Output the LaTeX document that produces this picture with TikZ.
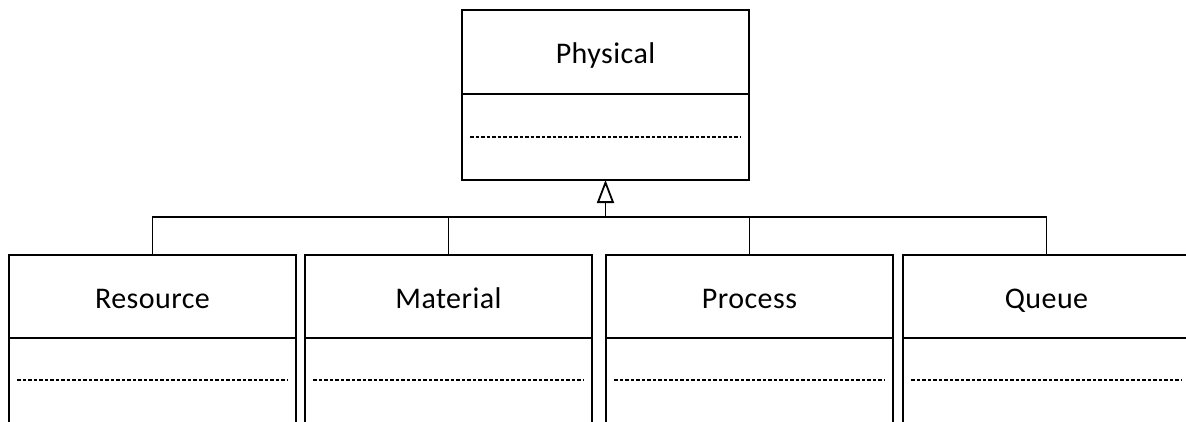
\documentclass[tikz,border=0pt]{standalone}
\usepackage{fontspec}
\setmainfont{Carlito}[LetterSpace=1.5]
\usetikzlibrary{arrows.meta}
\begin{document}
\begin{tikzpicture}[x=1pt,y=-1pt,
  classbox/.style={draw, line width=1.8pt, minimum width=287pt, minimum height=170pt,
    inner sep=0pt, outer sep=0pt},
  classname/.style={anchor=base, inner sep=0pt, font=\fontsize{30}{36}\selectfont},
  divider/.style={line width=1.8pt},
  opsep/.style={line width=1.2pt, dash pattern=on 3.5pt off 2pt},
  link/.style={line width=1.8pt},
  inherit/.style={link, -{Triangle[open, length=23pt, width=17pt, line width=1.8pt]}}]
\useasboundingbox (0,0) rectangle (1186,421);
\clip (0,0) rectangle (1186,421);

% superclass
\node[classbox] (phys) at (605.5,95) {};
\node[classname] (phys-t) at ([yshift=-53pt]phys.north) {Physical};
\draw[divider] ([yshift=-84pt]phys.north west) -- ([yshift=-84pt]phys.north east);
\draw[opsep] ([xshift=8pt,yshift=-127pt]phys.north west) -- ([xshift=-8pt,yshift=-127pt]phys.north east);

% subclasses
\foreach \n/\x/\t in {res/152.5/Resource, mat/448.5/Material, pro/749.5/Process, que/1046.5/Queue}{
  \node[classbox] (\n) at (\x,340) {};
  \node[classname] (\n-t) at ([yshift=-53pt]\n.north) {\t};
  \draw[divider] ([yshift=-83pt]\n.north west) -- ([yshift=-83pt]\n.north east);
  \draw[opsep] ([xshift=8pt,yshift=-125pt]\n.north west) -- ([xshift=-8pt,yshift=-125pt]\n.north east);
}

% generalization tree
\coordinate (bus) at (605.5,217);
\draw[link] (res.north) |- (bus) -| (que.north);
\draw[link] (mat.north) -- (mat.north |- bus);
\draw[link] (pro.north) -- (pro.north |- bus);
\draw[inherit] (bus) -- (phys.south);
\end{tikzpicture}
\end{document}
